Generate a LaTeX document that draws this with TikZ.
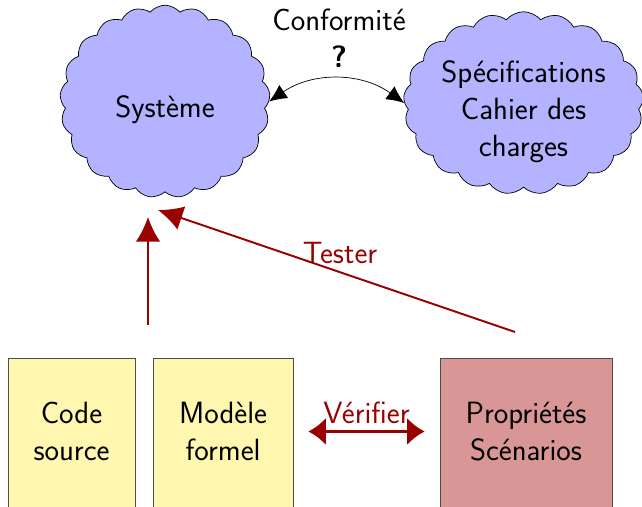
\documentclass[tikz,border=0pt]{standalone}
\usepackage{tikz}
\usetikzlibrary{shapes.symbols}
\usetikzlibrary{arrows.meta}
\definecolor{nuage}{RGB}{179,179,255}
\definecolor{papier}{RGB}{255,246,176}
\definecolor{rose}{RGB}{216,150,150}
\definecolor{rouge}{RGB}{153,0,0}

\begin{document}
\begin{tikzpicture}[font=\sffamily\fontsize{17.5}{21}\selectfont]
    \useasboundingbox (0,0) rectangle (12.84,-10.14);
    %% clouds
    \tikzstyle {bulle} = [cloud, cloud puffs=21, cloud puff arc=100, draw=black, fill=nuage, inner sep=0pt];
    \node (sys) [bulle, minimum width=4.2cm, minimum height=3.85cm] at (3.3,-2.03) {};
    \node (spec) [bulle, minimum width=4.8cm, minimum height=3.65cm] at (10.47,-2.06) {};
    \node (systxt) at (3.3,-2.2) {Système};
    \node (spectxt) [align=center] at (10.47,-2.23) {Spécifications\\Cahier des\\charges};
    \node (conf) [align=center] at (6.78,-0.76) {Conformité\\\textbf{?}};
    \draw [{Latex[length=10pt,width=9pt]}-{Latex[length=10pt,width=9pt]}] (sys.east) to[bend left=35] (spec.west);
    %% boxes
    \tikzstyle {feuille} = [shape=rectangle, draw=black!70, minimum height=3.4cm, anchor=north];
    \node (code) [feuille, fill=papier, minimum width=2.54cm] at (1.43,-7.16) {};
    \node (modele) [feuille, fill=papier, minimum width=2.8cm] at (4.46,-7.16) {};
    \node (props) [feuille, fill=rose, minimum width=3.44cm] at (10.52,-7.16) {};
    \node (codetxt) [align=center] at (1.43,-8.63) {Code\\source};
    \node (modeletxt) [align=center] at (4.46,-8.63) {Modèle\\formel};
    \node (propstxt) [align=center] at (10.52,-8.63) {Propriétés\\Scénarios};
    %% red arrows
    \tikzstyle {fleche} = [draw=rouge, line width=1.1pt, -{Latex[length=14pt,width=14pt]}];
    \coordinate (impl) at (2.96,-6.5);
    \coordinate (cible1) at (2.96,-4.34);
    \coordinate (scen) at (10.3,-6.64);
    \coordinate (cible2) at (3.16,-4.2);
    \draw [fleche] (impl) -- (cible1);
    \draw [fleche] (scen) -- node [above, pos=0.5, text=rouge, xshift=2pt] {Tester} (cible2);
    \draw [draw=rouge, line width=2pt, {Latex[length=10pt,width=16pt]}-{Latex[length=10pt,width=16pt]}, shorten <=0.3cm, shorten >=0.3cm] (modele.east |- propstxt) -- node [above, text=rouge] {Vérifier} (props.west |- propstxt);
  \end{tikzpicture}
\end{document}
